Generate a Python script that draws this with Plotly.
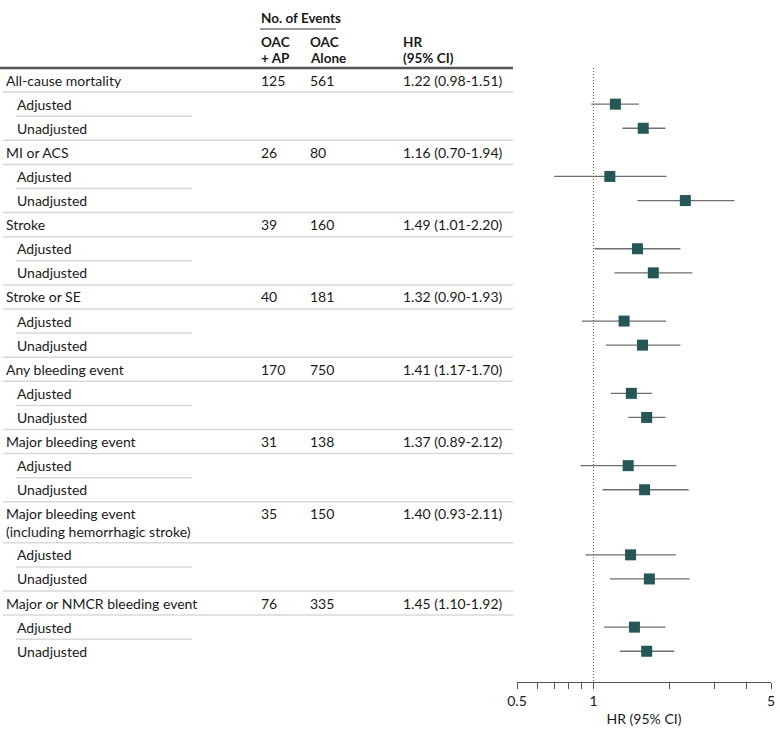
import math
import plotly.graph_objects as go

# ---------------- data ----------------
groups = ["All-cause mortality", "MI or ACS", "Stroke", "Stroke or SE",
          "Any bleeding event", "Major bleeding event",
          "Major bleeding event<br>(including hemorrhagic stroke)",
          "Major or NMCR bleeding event"]
n_oac_ap = [125, 26, 39, 40, 170, 31, 35, 76]
n_oac_alone = [561, 80, 160, 181, 750, 138, 150, 335]
adj_hr = [1.22, 1.16, 1.49, 1.32, 1.41, 1.37, 1.40, 1.45]
adj_lo = [0.98, 0.70, 1.01, 0.90, 1.17, 0.89, 0.93, 1.10]
adj_hi = [1.51, 1.94, 2.20, 1.93, 1.70, 2.12, 2.11, 1.92]
unadj_hr = [1.57, 2.30, 1.72, 1.56, 1.62, 1.59, 1.66, 1.62]
unadj_lo = [1.30, 1.49, 1.21, 1.12, 1.37, 1.085, 1.16, 1.27]
unadj_hi = [1.92, 3.59, 2.45, 2.20, 1.92, 2.37, 2.39, 2.08]
sub_labels = ["Adjusted", "Unadjusted"]
tick_vals = [0.5, 0.6, 0.7, 0.8, 0.9, 1, 2, 3, 4, 5]
tick_text = ["0.5", "", "", "", "", "1", "", "", "", "5"]

# ---------------- layout constants ----------------
W, H = 780, 737
FONT = "Lato"
TXT = "#1a1a1a"
MARK = "#245756"
ROW = 24.1
TALL = 41
TOP = 68          # header rule (pixels from top)
AXIS_Y = 682      # x-axis line (pixels from top)
X_NAME, X_SUB = 5, 16
X_AP, X_ALONE, X_HR = 260, 309, 402
X_TABLE_END = 513
FS = 14
FS_HEAD = 13.5

def px(x):
    return x / W

annotations = []
shapes = []

def text(x, y, s, bold=False, size=FS, anchor="middle"):
    annotations.append(dict(
        x=px(x), y=y, xref="paper", yref="y", text=f"<b>{s}</b>" if bold else s,
        showarrow=False, xanchor="left", yanchor=anchor, align="left",
        borderpad=0, font=dict(family=FONT, size=size, color=TXT)))

def hline(x0, x1, y, color="#d9d9d9", width=1.5):
    shapes.append(dict(type="line", xref="paper", yref="y", x0=px(x0), x1=px(x1),
                       y0=y, y1=y, line=dict(color=color, width=width), layer="below"))

# headers
text(X_AP, 18, "No. of Events", bold=True, size=FS_HEAD)
hline(X_AP, 336, 29, color="#333333", width=1)
text(X_AP, 42, "OAC", bold=True, size=FS_HEAD)
text(X_AP, 58, "+ AP", bold=True, size=FS_HEAD)
text(X_ALONE, 42, "OAC", bold=True, size=FS_HEAD)
text(X_ALONE, 58, "Alone", bold=True, size=FS_HEAD)
text(X_HR, 42, "HR", bold=True, size=FS_HEAD)
text(X_HR, 58, "(95% CI)", bold=True, size=FS_HEAD)
hline(0, X_TABLE_END, TOP, color="#555555", width=2.5)

# rows
y = TOP
ys_adj, ys_unadj = [], []
for i, g in enumerate(groups):
    h = TALL if "<br>" in g else ROW
    text(X_NAME, y + h / 2, g)
    yn = y + ROW / 2
    text(X_AP, yn, str(n_oac_ap[i]))
    text(X_ALONE, yn, str(n_oac_alone[i]))
    text(X_HR, yn, f"{adj_hr[i]:.2f} ({adj_lo[i]:.2f}-{adj_hi[i]:.2f})")
    y += h
    hline(3, X_TABLE_END, y)
    text(X_SUB, y + ROW / 2, sub_labels[0])
    ys_adj.append(y + ROW / 2)
    y += ROW
    hline(X_SUB, 192, y)
    text(X_SUB, y + ROW / 2, sub_labels[1])
    ys_unadj.append(y + ROW / 2)
    y += ROW
    if i < len(groups) - 1:
        hline(3, X_TABLE_END, y)

# reference line at HR = 1
shapes.append(dict(type="line", xref="x", yref="y", x0=1, x1=1, y0=TOP, y1=AXIS_Y,
                   line=dict(color="#555555", width=1, dash="1px,2px"), layer="below"))

fig = go.Figure()
hr_all = adj_hr + unadj_hr
lo_all = adj_lo + unadj_lo
hi_all = adj_hi + unadj_hi
fig.add_trace(go.Scatter(
    x=hr_all, y=ys_adj + ys_unadj, mode="markers",
    marker=dict(symbol="square", size=11, color=MARK, line=dict(width=0)),
    error_x=dict(type="data", symmetric=False,
                 array=[h - m for h, m in zip(hi_all, hr_all)],
                 arrayminus=[m - l for m, l in zip(hr_all, lo_all)],
                 color="#6e6e6e", thickness=1.3, width=0),
    showlegend=False, hoverinfo="skip"))

fig.update_layout(
    width=W, height=H, margin=dict(l=0, r=0, t=0, b=0, pad=0, autoexpand=False),
    paper_bgcolor="white", plot_bgcolor="white",
    font=dict(family=FONT, size=FS, color=TXT),
    annotations=annotations, shapes=shapes,
    xaxis=dict(type="log", range=[math.log10(0.5), math.log10(5)],
               domain=[px(517), px(771)], tickvals=tick_vals, ticktext=tick_text,
               ticks="outside", ticklen=6, tickcolor="#555555", tickwidth=1,
               showline=True, linecolor="#555555", linewidth=1,
               showgrid=False, zeroline=False, ticklabeloverflow="allow",
               automargin=False,
               tickfont=dict(family=FONT, size=FS, color=TXT),
               title=dict(text="HR (95% CI)", standoff=6,
                          font=dict(family=FONT, size=FS, color=TXT))),
    yaxis=dict(range=[AXIS_Y, 0], domain=[(H - AXIS_Y) / H, 1], automargin=False,
               visible=False, showgrid=False, zeroline=False),
)

fig.write_html("out.html", config={"displayModeBar": False},
               post_script="document.body.style.margin='0px';")
